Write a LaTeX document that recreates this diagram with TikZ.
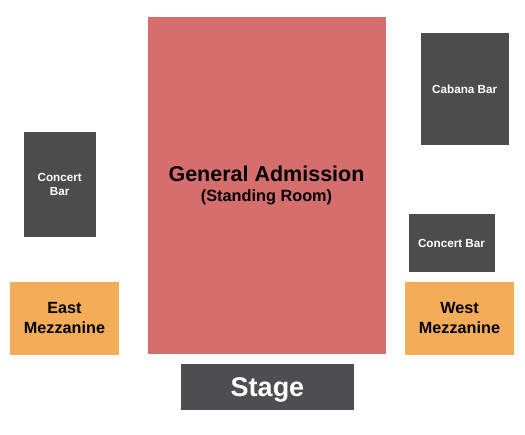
\documentclass[tikz,border=0pt]{standalone}
\usepackage{fontspec}
\setmainfont{Liberation Sans}
\usepackage{tikz}
\usetikzlibrary{positioning}
\definecolor{gared}{HTML}{D66E6E}
\definecolor{bargray}{HTML}{4C4C4C}
\definecolor{stagegray}{HTML}{4E4D51}
\definecolor{mezz}{HTML}{F3AC58}
\tikzstyle{area}=[rectangle, fill=gared, inner sep=0pt, align=center, font=\fontsize{21.5}{20}\selectfont\bfseries]
\tikzstyle{bar}=[rectangle, fill=bargray, text=white, inner sep=0pt, align=center, font=\fontsize{11.7}{14.5}\selectfont\bfseries]
\tikzstyle{mez}=[rectangle, fill=mezz, inner sep=0pt, align=center, font=\fontsize{16.2}{20}\selectfont\bfseries]
\tikzstyle{stg}=[rectangle, fill=stagegray, text=white, inner sep=0pt, text depth=0pt, align=center, font=\fontsize{27}{30}\selectfont\bfseries]
\begin{document}
\begin{tikzpicture}[x=1pt,y=-1pt]
\useasboundingbox (0,0) rectangle (525,434);
%Floor
\node[area, minimum width=238pt, minimum height=337pt](ga) at (266.5,185.5){General Admission\\{\fontsize{16.3}{20}\selectfont (Standing Room)}};
%Bars
\node[bar, minimum width=87.5pt, minimum height=112pt](cabana) at (464.75,89){Cabana Bar};
\node[bar, minimum width=71.5pt, minimum height=105pt](cbleft) at (59.75,184.5){Concert\\Bar};
\node[bar, minimum width=86pt, minimum height=58pt](cbright) at (451.5,243){Concert Bar};
%Mezzanines
\node[mez, minimum width=109pt, minimum height=73pt](east) at (64.5,318.5){East\\Mezzanine};
\node[mez, minimum width=109pt, minimum height=73pt](west) at (459.5,318.5){West\\Mezzanine};
%Stage
\node[stg, minimum width=173pt, minimum height=46pt](stage) at (267.5,387){Stage};
\end{tikzpicture}
\end{document}
